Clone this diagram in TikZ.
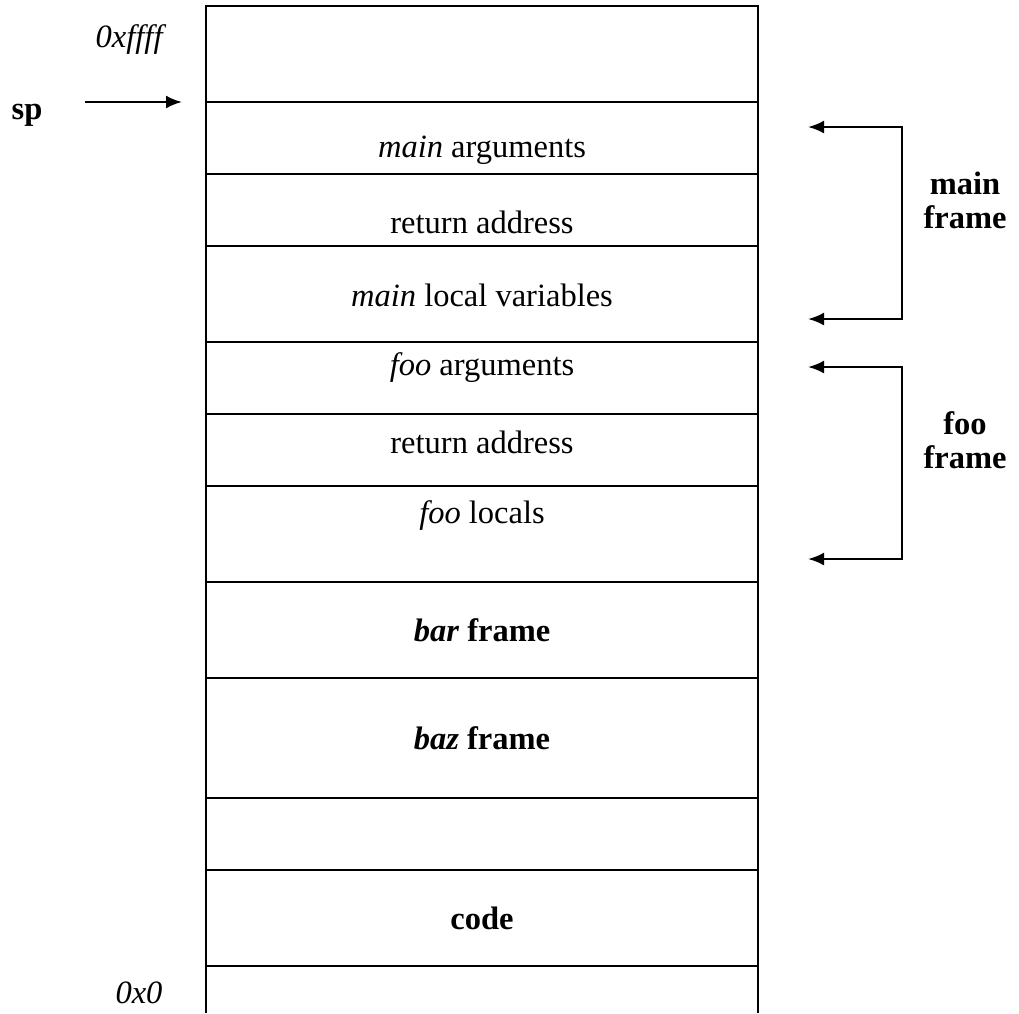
\documentclass[tikz,border=0pt]{standalone}
\usepackage{fontspec}
\setmainfont{Liberation Serif}
\usetikzlibrary{arrows.meta,positioning}

\begin{document}
\begin{tikzpicture}[x=1pt, y=-1pt, >={Latex[length=16pt,width=13pt]}, line width=2.4pt,
  cell/.style={font=\fontsize{32.5}{38}\selectfont},
  side/.style={font=\fontsize{32.5}{34}\selectfont\bfseries, align=center}]
\useasboundingbox (0,0) rectangle (1019,1013);

% the stack
\draw (206,1013) -- (206,6) -- (758,6) -- (758,1013);
\foreach \y in {102,174,246,342,414,486,582,678,798,870,966}
  \draw[line width=2pt] (206,\y) -- (758,\y);

% cell labels
\node[cell] (margs) at (482,150) {\textit{main} arguments};
\node[cell] (mret) at (482,222) {return address};
\node[cell] (mloc) at (482,295) {\textit{main} local variables};
\node[cell] (fargs) at (482,368) {\textit{foo} arguments};
\node[cell] (fret) at (482,442) {return address};
\node[cell] (floc) at (482,516) {\textit{foo} locals};
\node[cell] (bar) at (482,630) {\textbf{\textit{bar} frame}};
\node[cell] (baz) at (482,738) {\textbf{\textit{baz} frame}};
\node[cell] (code) at (482,918) {\textbf{code}};

% addresses
\node[cell] (top) at (131,40) {\textit{0xffff}};
\node[cell] (bottom) at (139,993) {\textit{0x0}};

% stack pointer
\node[side] (sp) at (27,115) {sp};
\coordinate (spfrom) at (85,102);
\coordinate (spto) at (182,102);
\draw[->] (spfrom) -- (spto);

% frames
\coordinate (mtop) at (808,127);
\coordinate (mbot) at (808,319);
\coordinate (ftop) at (808,367);
\coordinate (fbot) at (808,559);
\draw[<->] (mtop) -- ++(94,0) |- (mbot);
\draw[<->] (ftop) -- ++(94,0) |- (fbot);
\node[side] (mframe) at (965,200) {main\\frame};
\node[side] (fframe) at (965,440) {foo\\frame};
\end{tikzpicture}
\end{document}
